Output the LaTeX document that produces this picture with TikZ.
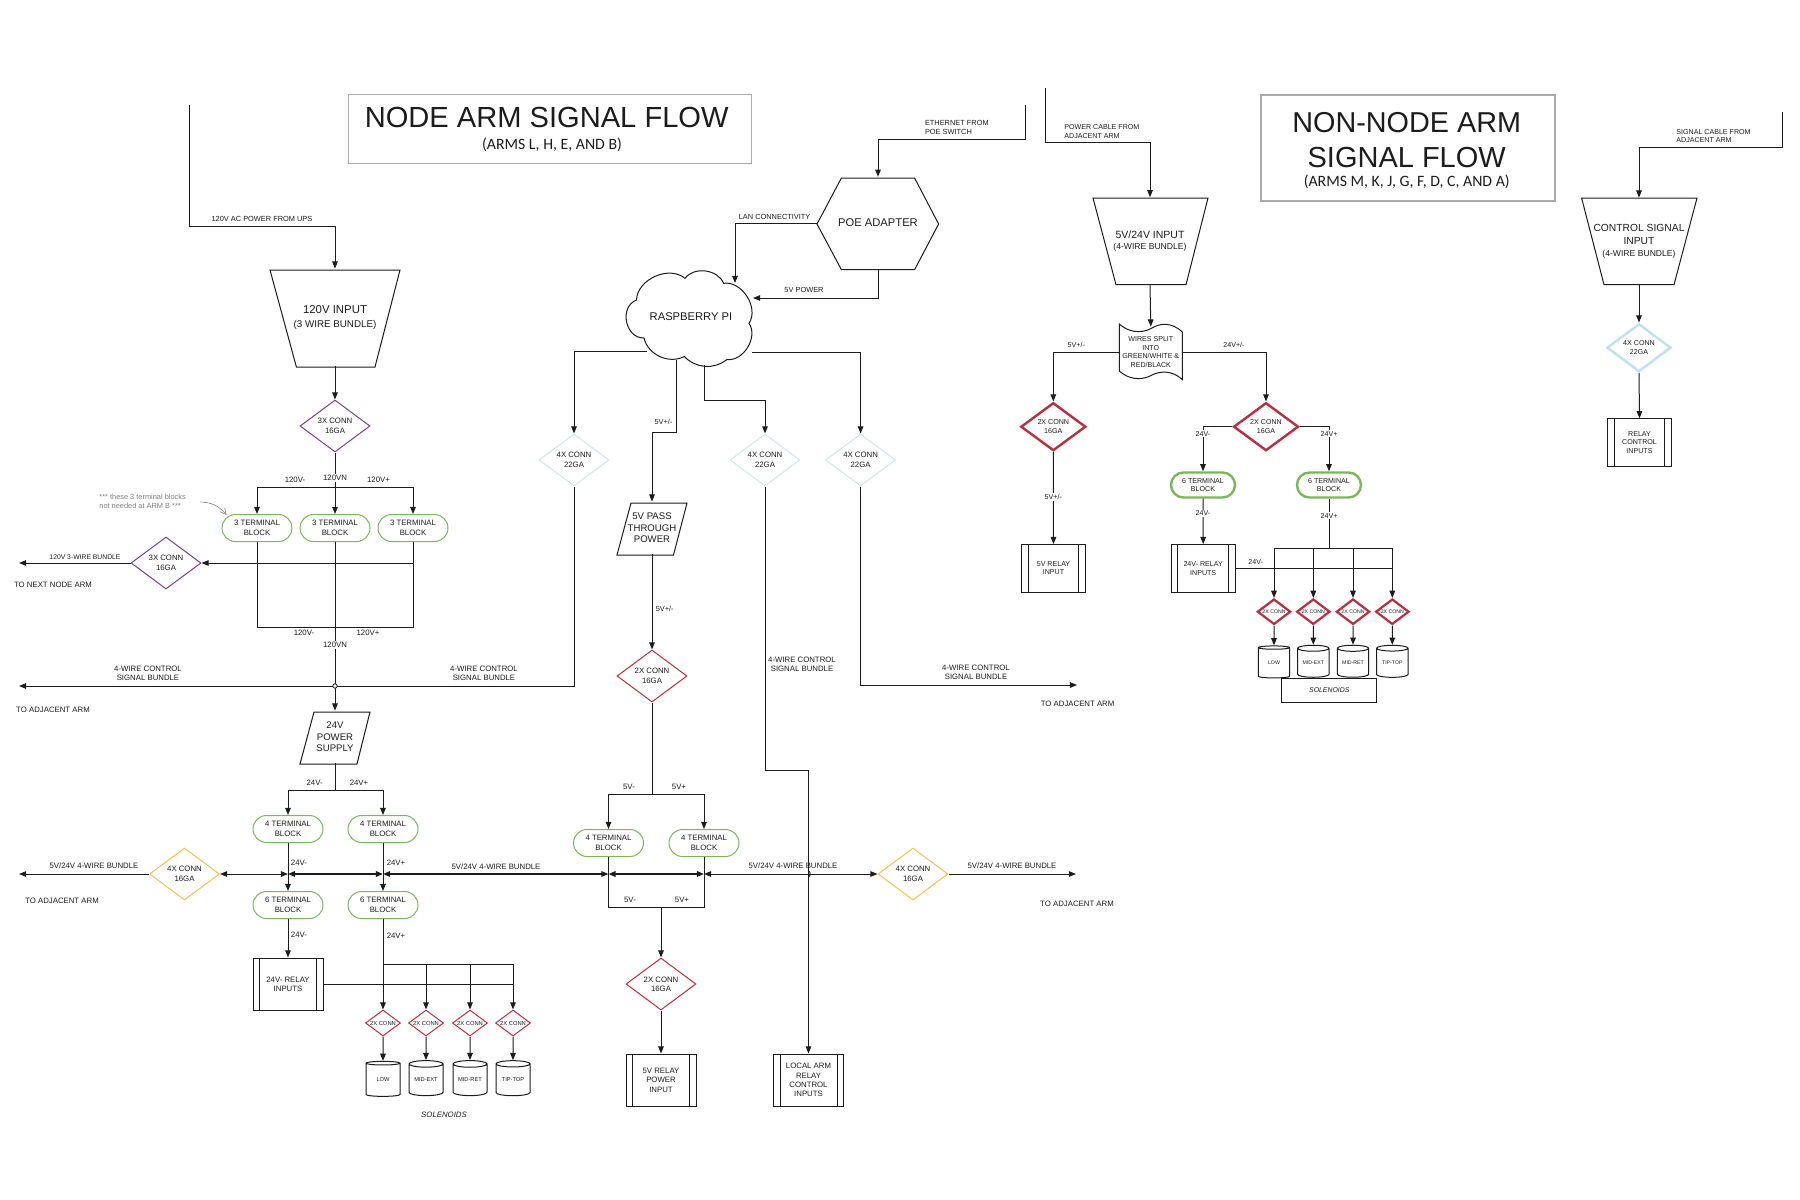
\documentclass[tikz,border=0pt]{standalone}
\usepackage{fontspec}
\setmainfont{Liberation Sans}
\newfontfamily\carlito{Carlito}
\usetikzlibrary{arrows.meta,shapes.geometric,shapes.misc}
\definecolor{ink}{HTML}{1C1C1C}
\definecolor{boxgray}{HTML}{ABABAB}
\definecolor{tgreen}{HTML}{7DB55C}
\definecolor{cpurple}{HTML}{7A4288}
\definecolor{cblue}{HTML}{CFE6EC}
\definecolor{cblueb}{HTML}{BFE0F0}
\definecolor{cred}{HTML}{B7303F}
\definecolor{cyellow}{HTML}{EDC253}
\newcommand{\fsA}{\fontsize{3.9pt}{4.7pt}\selectfont}
\newcommand{\fsB}{\fontsize{3.55pt}{4.25pt}\selectfont}
\newcommand{\fsC}{\fontsize{2.85pt}{3.4pt}\selectfont}
\newcommand{\fsD}{\fontsize{2.6pt}{3.2pt}\selectfont}
\newcommand{\fsE}{\fontsize{3.45pt}{4.2pt}\selectfont}
\newcommand{\fsP}{\fontsize{4.8pt}{5.7pt}\selectfont}
\newcommand{\fsH}{\fontsize{5.6pt}{6.5pt}\selectfont}
\newcommand{\insets}[2]{\draw[shapeline] ([xshift=#2]#1.north west) -- ([xshift=#2]#1.south west) ([xshift=-#2]#1.north east) -- ([xshift=-#2]#1.south east);}
\tikzset{
 x=0.5pt,y=-0.5pt,
 shapeline/.style={draw=ink,line width=0.5pt},
 wire/.style={draw=ink,line width=0.5pt},
 conn/.style={wire,-{Triangle[length=3.6pt,width=2.8pt]}},
 biconn/.style={wire,{Triangle[length=3.6pt,width=2.8pt]}-{Triangle[length=3.6pt,width=2.8pt]}},
 txt/.style={text=ink,inner sep=0pt,align=center,font=\fsA},
 txtb/.style={txt,font=\fsB},
 onwire/.style={txt,fill=white,inner sep=0.6pt},
 onwireb/.style={txtb,fill=white,inner sep=0.6pt},
 sized/.style 2 args={minimum width=#1*0.5pt,minimum height=#2*0.5pt},
 dia/.style={diamond,inner sep=0pt,aspect=1.346,sized={70}{52},txt,line width=0.5pt},
 diab/.style={diamond,inner sep=0pt,aspect=1.346,sized={65}{48},txtb,line width=1.2pt,draw=cred},
 minid/.style={diamond,inner sep=0pt,aspect=1.346,sized={35}{26},txt,font=\fontsize{2.9pt}{3.4pt}\selectfont,line width=0.5pt,draw=cred},
 minidb/.style={diamond,inner sep=0pt,aspect=1.346,sized={33.4}{25.4},txt,font=\fsD,line width=1.1pt,draw=cred},
 term/.style={rounded rectangle,rounded rectangle arc length=180,draw=tgreen,line width=0.5pt,inner sep=0pt,sized={70}{27},txt},
 termb/.style={rounded rectangle,rounded rectangle arc length=180,draw=tgreen,line width=1.2pt,inner sep=0pt,sized={64}{25},txtb},
 relay/.style={rectangle,shapeline,inner sep=0pt,sized={70}{52},txt},
 relayb/.style={rectangle,shapeline,inner sep=0pt,sized={63.6}{47.4},txtb},
 cyl/.style={cylinder,shape border rotate=90,aspect=0.28,shapeline,inner sep=0pt,sized={34}{35},txt,font=\fsC},
 cylb/.style={cylinder,shape border rotate=90,aspect=0.28,shapeline,inner sep=0pt,sized={31.4}{32},txt,font=\fsD},
 holder/.style={inner sep=0pt,txt},
}
\begin{document}
\begin{tikzpicture}
\useasboundingbox (0,0) rectangle (1800,1200);
% ---- title boxes
\node[draw=boxgray,line width=0.5pt,sized={403}{69}] (titleA) at (549.5,128.5) {};
\node[text=ink,inner sep=0pt,font=\fontsize{14.55pt}{16pt}\selectfont] (titleAa) at (546.7,117.5) {NODE ARM SIGNAL FLOW};
\node[text=ink,inner sep=0pt,font=\carlito\fontsize{7.9pt}{10pt}\selectfont] (titleAb) at (552,144.5) {(ARMS L, H, E, AND B)};
\node[draw=boxgray,line width=0.9pt,sized={293.6}{105.4}] (titleB) at (1407.8,148) {};
\node[text=ink,inner sep=0pt,font=\fontsize{14.4pt}{16pt}\selectfont] (titleBa) at (1406.7,122.7) {NON-NODE ARM};
\node[text=ink,inner sep=0pt,font=\fontsize{14.5pt}{16pt}\selectfont] (titleBb) at (1406.7,157.5) {SIGNAL FLOW};
\node[text=ink,inner sep=0pt,font=\carlito\fontsize{7.9pt}{10pt}\selectfont] (titleBc) at (1406.7,182) {(ARMS M, K, J, G, F, D, C, AND A)};

% ---- free ends
\coordinate (ups0) at (189.6,105);
\coordinate (upsK) at (335,226);
\coordinate (eth0) at (1025,105);
\coordinate (ethK) at (878,139);
\coordinate (pow0) at (1045,88);
\coordinate (powK) at (1150,142.7);
\coordinate (sig0) at (1782.5,111.7);
\coordinate (sigK) at (1639,147);
\coordinate (nx3) at (19,563);
\coordinate (ctrlL) at (19,686);
\coordinate (ctrlR) at (1077,685);
\coordinate (bwL) at (19,874);
\coordinate (bwR) at (1076,874);

% ---- left column
\node[holder,sized={130}{97},font=\fontsize{5pt}{6.6pt}\selectfont] (in120) at (335,317.5) {{\fontsize{5.7pt}{6.5pt}\selectfont 120V INPUT}\\{\fontsize{4.9pt}{6.5pt}\selectfont (3 WIRE BUNDLE)}};
\draw[shapeline] (270,270) -- (400,270) -- (375,367) -- (296.4,367) -- cycle;
\node[dia,draw=cpurple] (dp1) at (335,426) {3X CONN\\16GA};
\node[dia,draw=cpurple] (dp2) at (166,563) {3X CONN\\16GA};
\node[term] (tb1) at (257,528) {3 TERMINAL\\BLOCK};
\node[term] (tb2) at (335,528) {3 TERMINAL\\BLOCK};
\node[term] (tb3) at (413,528) {3 TERMINAL\\BLOCK};
\node[holder,font=\fsP,sized={70}{52}] (psu) at (335,737) {24V\\POWER\\SUPPLY};
\draw[shapeline] (314,712) -- (370,712) -- (357,764) -- (300,764) -- cycle;
\node[term] (t4a) at (288,829) {4 TERMINAL\\BLOCK};
\node[term] (t4b) at (383,829) {4 TERMINAL\\BLOCK};
\node[term] (t6a) at (288,905) {6 TERMINAL\\BLOCK};
\node[term] (t6b) at (383,905) {6 TERMINAL\\BLOCK};
\node[dia,draw=cyellow] (dy1) at (184.5,874) {4X CONN\\16GA};
\node[relay] (r24) at (288,984) {24V- RELAY\\INPUTS};
\insets{r24}{3.5pt}
\node[minid] (s1) at (383,1023) {\makebox[0pt]{2X CONN}};
\node[minid] (s2) at (426,1023) {\makebox[0pt]{2X CONN}};
\node[minid] (s3) at (470,1023) {\makebox[0pt]{2X CONN}};
\node[minid] (s4) at (513,1023) {\makebox[0pt]{2X CONN}};
\node[cyl] (c1) at (383,1080) {LOW};
\node[cyl] (c2) at (426,1080) {MID-EXT};
\node[cyl] (c3) at (470,1080) {MID-RET};
\node[cyl] (c4) at (513,1080) {TIP-TOP};

% ---- centre column
\node[holder,font=\fsH,sized={121.6}{91.7}] (poe) at (878,223) {POE ADAPTER};
\draw[shapeline] (841.4,178) -- (914.6,178) -- (938.6,224) -- (914.6,269.7) -- (841.4,269.7) -- (817,224) -- cycle;
\node[holder,font=\fsH,sized={130}{97}] (pi) at (691,317) {RASPBERRY PI};
\draw[shapeline] (644,338) to[bend left=80,looseness=1.25] (636.5,300) to[bend left=64] (685,278.3) to[bend left=60] (723.6,283.3) to[bend left=66] (749,323.3) to[bend left=66] (727,359.5) to[bend left=42] (684.3,356.5) to[bend left=52] cycle;
\coordinate (piL) at (646.8,351);
\coordinate (piR) at (752,352.7);
\coordinate (piM) at (704,365);
\coordinate (pi5) at (676.4,360);
\coordinate (piT) at (735,283);
\coordinate (piE) at (753,298);
\node[dia,draw=cblue] (dc1) at (574,460) {4X CONN\\22GA};
\node[dia,draw=cblue] (dc2) at (765,460) {4X CONN\\22GA};
\node[dia,draw=cblue] (dc3) at (860.6,460) {4X CONN\\22GA};
\node[holder,font=\fsP,sized={70}{52}] (pt5) at (652,528) {5V PASS\\THROUGH\\POWER};
\draw[shapeline] (631,503) -- (687,503) -- (673.5,555) -- (617,555) -- cycle;
\node[dia,draw=cred] (dr5) at (652,676) {2X CONN\\16GA};
\node[term] (t5a) at (608.5,843) {4 TERMINAL\\BLOCK};
\node[term] (t5b) at (704,843) {4 TERMINAL\\BLOCK};
\node[dia,draw=cred] (dr6) at (661,984) {2X CONN\\16GA};
\node[relay] (r5) at (661,1080) {5V RELAY\\POWER\\INPUT};
\insets{r5}{3.5pt}
\node[relay] (rl) at (808.5,1080) {LOCAL ARM\\RELAY\\CONTROL\\INPUTS};
\insets{rl}{3.5pt}
\node[dia,draw=cyellow] (dy2) at (913,874) {4X CONN\\16GA};

% ---- non-node arm
\node[holder,sized={115}{86.7},font=\fontsize{4.5pt}{5.9pt}\selectfont] (nin) at (1150,241) {{\fontsize{5.25pt}{6pt}\selectfont 5V/24V INPUT}\\{\fontsize{4.3pt}{6pt}\selectfont (4-WIRE BUNDLE)}};
\draw[shapeline] (1093,198) -- (1208,198) -- (1186,284.7) -- (1116,284.7) -- cycle;
\node[holder,sized={63}{50},font=\fsB] (nsp) at (1150.8,352) {WIRES SPLIT\\INTO\\GREEN/WHITE \&\\RED/BLACK};
\draw[shapeline] (1119.3,324) .. controls (1133,336) and (1147,331) .. (1152,328) .. controls (1160,323) and (1172,322) .. (1182.3,332) -- (1182.3,379.5) .. controls (1172,370) and (1160,371) .. (1152,375) .. controls (1147,378) and (1133,383) .. (1119.3,371) -- cycle;
\node[diab] (nd1) at (1053.3,426.7) {2X CONN\\16GA};
\node[diab] (nd2) at (1266,426.7) {2X CONN\\16GA};
\node[relayb] (nr5) at (1053.5,568.3) {5V RELAY\\INPUT};
\insets{nr5}{3.5pt}
\node[termb] (nt1) at (1203,485) {6 TERMINAL\\BLOCK};
\node[termb] (nt2) at (1329,485) {6 TERMINAL\\BLOCK};
\node[relayb] (nr24) at (1203.2,568.3) {24V- RELAY\\INPUTS};
\insets{nr24}{3.5pt}
\node[minidb] (ns1) at (1274,611.7) {\makebox[0pt]{2X CONN}};
\node[minidb] (ns2) at (1313.3,611.7) {\makebox[0pt]{2X CONN}};
\node[minidb] (ns3) at (1353,611.7) {\makebox[0pt]{2X CONN}};
\node[minidb] (ns4) at (1392.3,611.7) {\makebox[0pt]{2X CONN}};
\node[cylb] (nc1) at (1274,663) {LOW};
\node[cylb] (nc2) at (1313.3,663) {MID-EXT};
\node[cylb] (nc3) at (1353,663) {MID-RET};
\node[cylb] (nc4) at (1392.3,663) {TIP-TOP};
\node[rectangle,shapeline,inner sep=0pt,sized={94.7}{23.6},text=ink,font=\fsE\itshape,fill=white] (nsol) at (1329.3,690.5) {SOLENOIDS};
\node[holder,sized={115}{86.7},font=\fontsize{5.15pt}{6.1pt}\selectfont] (cin) at (1639,241.35) {CONTROL SIGNAL\\INPUT\\{\fontsize{4.3pt}{6pt}\selectfont (4-WIRE BUNDLE)}};
\draw[shapeline] (1581.6,198) -- (1697,198) -- (1674,284.7) -- (1604,284.7) -- cycle;
\node[diamond,inner sep=0pt,aspect=1.346,sized={64}{48},txtb,line width=1.2pt,draw=cblueb] (ncd) at (1639,347.7) {4X CONN\\22GA};
\node[relayb] (ncr) at (1639.5,442.5) {RELAY\\CONTROL\\INPUTS};
\insets{ncr}{3.5pt}

% ---- connectors, left column
\draw[conn] (ups0) |- (upsK) -- (in120.north);
\draw[conn] (in120.south) -- (dp1.north);
\coordinate (bt) at (335,487);
\draw[wire] (dp1.south) -- (bt);
\draw[conn] (bt) -- (tb2.north);
\draw[conn] (bt) -| (tb1.north);
\draw[conn] (bt) -| (tb3.north);
\coordinate (bb) at (335,627);
\draw[wire] (tb1.south) |- (bb);
\draw[wire] (tb3.south) |- (bb);
\draw[conn] (tb2.south) -- (psu.north);
\draw[conn] (tb3.south |- dp2.east) -- (dp2.east);
\draw[conn] (dp2.west) -- (nx3);
\draw[conn] (dc1.south) |- (ctrlL);
\node[circle,draw=ink,fill=white,line width=0.4pt,inner sep=0pt,minimum size=2.2pt] (jn) at (335,686) {};
\coordinate (pb) at (335,790);
\draw[wire] (psu.south) -- (pb);
\draw[conn] (pb) -| (t4a.north);
\draw[conn] (pb) -| (t4b.north);
\draw[conn] (t4a.south) -- (t6a.north);
\draw[conn] (t4b.south) -- (t6b.north);
\draw[conn] (t6a.south) -- (r24.north);
\draw[conn] (t6b.south) -- (s1.north);
\coordinate (row) at (383,964);
\draw[conn] (row) -| (s2.north);
\draw[conn] (row) -| (s3.north);
\draw[conn] (row) -| (s4.north);
\draw[wire] (r24.east) -- (r24.east -| s4.north);
\foreach \a/\b in {s1/c1,s2/c2,s3/c3,s4/c4}{\draw[conn] (\a.south) -- (\b.north);}
% bundle
\coordinate (bA) at (288,874);
\coordinate (bB) at (383,874);
\coordinate (bC) at (608.5,874);
\coordinate (bD) at (704,874);
\draw[conn] (dy1.west) -- (bwL);
\draw[biconn] (dy1.east) -- (bA);
\draw[biconn,line width=0.9pt] (bA) -- (bB);
\draw[biconn,line width=0.7pt] (bB) -- (bC);
\draw[biconn,line width=0.9pt] (bC) -- (bD);
\draw[biconn] (bD) -- (dy2.west);
\draw[conn] (dy2.east) -- (bwR);
% centre
\draw[conn] (eth0) |- (ethK) -- (poe.north);
\draw[conn] (poe.west) -| (piT);
\draw[conn] (poe.south) |- (piE);
\draw[conn] (piL) -| (dc1.north);
\draw[conn] (piR) -| (dc3.north);
\coordinate (k2) at (765,400.7);
\draw[conn] (piM) |- (k2) -- (dc2.north);
\coordinate (k3) at (652,432);
\draw[conn] (pi5) |- (k3) -- (pt5.north);
\draw[conn] (pt5.south) -- (dr5.north);
\coordinate (b5) at (652,794);
\draw[wire] (dr5.south) -- (b5);
\draw[conn] (b5) -| (t5a.north);
\draw[conn] (b5) -| (t5b.north);
\coordinate (b6) at (661,907);
\draw[wire] (t5a.south) |- (b6);
\draw[wire] (t5b.south) |- (b6);
\draw[conn] (b6) -- (dr6.north);
\draw[conn] (dr6.south) -- (r5.north);
\coordinate (k5) at (808.5,770);
\draw[conn] (dc2.south) |- (k5) -- (rl.north);
\draw[wire] (808.5,871) to[bend left=70] (808.5,877);
\draw[conn] (dc3.south) |- (ctrlR);
% non-node
\draw[conn] (pow0) |- (powK) -- (nin.north);
\draw[conn] (nin.south) -- (nsp.north);
\draw[conn] (nsp.west) -| (nd1.north);
\draw[conn] (nsp.east) -| (nd2.north);
\draw[conn] (nd1.south) -- (nr5.north);
\draw[conn] (nd2.west) -| (nt1.north);
\draw[conn] (nd2.east) -| (nt2.north);
\draw[conn] (nt1.south) -- (nr24.north);
\coordinate (nrow) at (1329,548.3);
\draw[wire] (nt2.south) -- (nrow);
\foreach \t in {ns1,ns2,ns3,ns4}{\draw[conn] (nrow) -| (\t.north);}
\draw[wire] (nr24.east) -- (nr24.east -| ns4.north);
\foreach \a/\b in {ns1/nc1,ns2/nc2,ns3/nc3,ns4/nc4}{\draw[conn] (\a.south) -- (\b.north);}
\draw[conn] (sig0) |- (sigK) -- (cin.north);
\draw[conn] (cin.south) -- (ncd.north);
\draw[conn] (ncd.south) -- (ncr.north);

% ---- labels
\node[txt,font=\fontsize{3.7pt}{4pt}\selectfont] (lUps) at (262,218.7) {120V AC POWER FROM UPS};
\node[txt,anchor=west,align=left,font=\fontsize{3.7pt}{4.6pt}\selectfont] (lEth) at (924.6,127.3) {ETHERNET FROM\\POE SWITCH};
\node[txt] (lLan) at (774.6,216.7) {\fontsize{3.7pt}{4pt}\selectfont LAN CONNECTIVITY};
\node[txt] (l5vp) at (804,290) {\fontsize{3.7pt}{4pt}\selectfont 5V POWER};
\node[txt,anchor=west,align=left,font=\fontsize{3.55pt}{4.25pt}\selectfont] (lPow) at (1064,131.8) {POWER CABLE FROM\\ADJACENT ARM};
\node[txt,anchor=west,align=left,font=\fontsize{3.55pt}{4.25pt}\selectfont] (lSig) at (1676,136) {SIGNAL CABLE FROM\\ADJACENT ARM};
\node[txt] (l120a) at (295,480) {120V-};
\node[onwire] (l120b) at (335,478) {120VN};
\node[txt] (l120c) at (378.5,480) {120V+};
\node[txt,align=left,text=gray,font=\fontsize{3.7pt}{4.6pt}\selectfont,anchor=west] (lnote) at (99,501.5) {*** these 3 terminal blocks\\not needed at ARM B ***};
\coordinate (na) at (200,502);
\coordinate (nb) at (226.5,515);
\draw[gray,line width=0.3pt,-{Straight Barb[length=3pt,width=3pt]}] (na) to[bend left=25] (nb);
\node[txt,font=\fontsize{3.4pt}{4pt}\selectfont] (l3w) at (85,557) {120V 3-WIRE BUNDLE};
\node[txt] (lnext) at (53,585) {TO NEXT NODE ARM};
\node[txt] (l120d) at (304,633) {120V-};
\node[txt] (l120e) at (368,633) {120V+};
\node[onwire] (l120f) at (335,645) {120VN};
\node[txt] (lc1) at (148,673.5) {4-WIRE CONTROL\\SIGNAL BUNDLE};
\node[txt] (lc2) at (484,673.5) {4-WIRE CONTROL\\SIGNAL BUNDLE};
\node[txt] (lta1) at (53,710) {TO ADJACENT ARM};
\node[txt] (l24a) at (314.6,783) {24V-};
\node[txt] (l24b) at (359,783) {24V+};
\node[txt] (l24c) at (299,863) {24V-};
\node[txt] (l24d) at (396,863) {24V+};
\node[txt] (lb1) at (94,866) {5V/24V 4-WIRE BUNDLE};
\node[txt] (lb2) at (496,867) {5V/24V 4-WIRE BUNDLE};
\node[txt] (lb3) at (793,866) {5V/24V 4-WIRE BUNDLE};
\node[txt] (lb4) at (1012,866) {5V/24V 4-WIRE BUNDLE};
\node[txt] (lta2) at (62,901) {TO ADJACENT ARM};
\node[txt] (lta3) at (1077,904) {TO ADJACENT ARM};
\node[txt] (l24e) at (299,935) {24V-};
\node[txt] (l24f) at (396,936) {24V+};
\node[txt,font=\fsA\itshape] (lsol) at (444,1115) {SOLENOIDS};
\node[txt,font=\fontsize{3.7pt}{4pt}\selectfont] (l5a) at (663.5,421.7) {5V+/-};
\node[txt,font=\fontsize{3.7pt}{4pt}\selectfont] (l5b) at (664.7,609) {5V+/-};
\node[txt] (l5c) at (629,787) {5V-};
\node[txt] (l5d) at (679,787) {5V+};
\node[txt] (l5e) at (630,900) {5V-};
\node[txt] (l5f) at (682,900) {5V+};
\node[txt] (lc3) at (802,664.5) {4-WIRE CONTROL\\SIGNAL BUNDLE};
\node[txt] (lc4) at (976,672.5) {4-WIRE CONTROL\\SIGNAL BUNDLE};
\node[txt] (lta4) at (1077.6,704) {TO ADJACENT ARM};
\node[txtb] (ln1) at (1076.3,345) {5V+/-};
\node[txtb] (ln2) at (1234,345) {24V+/-};
\node[onwireb] (ln3) at (1203,433.7) {24V-};
\node[onwireb] (ln4) at (1329,433.7) {24V+};
\node[onwireb] (ln5) at (1053.3,496.7) {5V+/-};
\node[onwireb] (ln6) at (1203,513.3) {24V-};
\node[onwireb] (ln7) at (1329,515.7) {24V+};
\node[txtb] (ln8) at (1255.7,561.7) {24V-};
\end{tikzpicture}
\end{document}
